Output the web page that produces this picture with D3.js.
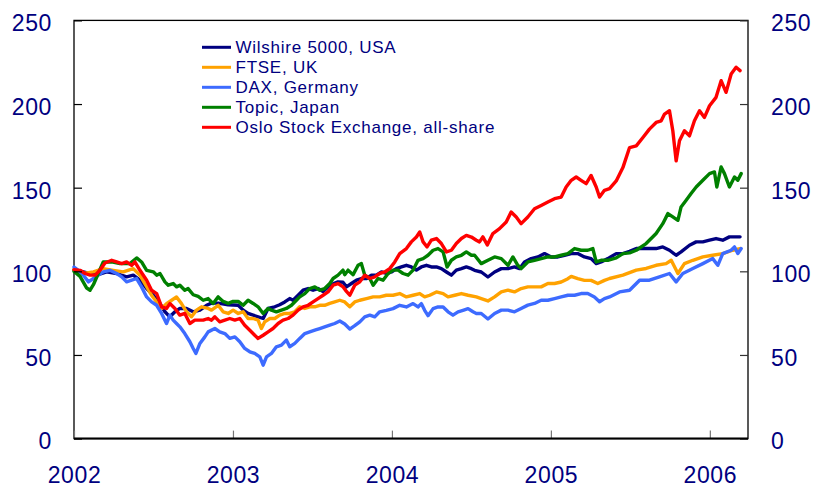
<!DOCTYPE html>
<html><head><meta charset="utf-8">
<script src="https://cdn.jsdelivr.net/npm/d3@7"></script>
<style>
html,body{margin:0;padding:0;background:#fff;}
svg{display:block;font-family:"Liberation Sans",Arial,sans-serif;}
</style></head>
<body><svg id="chart" width="813" height="492"></svg>
<script>
// ---- data: [decimal year, index value (Jan 2002 = 100)] ----
const yTicks = [0, 50, 100, 150, 200, 250];
const xTicks = [2002, 2003, 2004, 2005, 2006];
const seriesNames = ["Wilshire 5000, USA", "FTSE, UK", "DAX, Germany", "Topic, Japan", "Oslo Stock Exchange, all-share"];
const seriesColors = ["#000080", "#ffa200", "#3d6bff", "#008000", "#ff0000"];

const wilshire = [[2002.000,101],[2002.059,99.7],[2002.142,97.7],[2002.205,99.7],[2002.268,98.7],[2002.331,96.7],[2002.373,97.7],[2002.415,94.7],[2002.457,89.7],[2002.499,85.7],[2002.541,80.7],[2002.572,75.8],[2002.603,72.8],[2002.635,75.8],[2002.666,77.8],[2002.708,77.8],[2002.750,75.8],[2002.792,76.8],[2002.834,79.7],
[2002.865,81],[2002.907,81],[2002.970,80],[2003.033,79.7],[2003.064,76.8],[2003.095,74.8],[2003.127,73.8],[2003.158,72.8],[2003.190,71.8],[2003.221,77.8],[2003.263,78.8],[2003.294,80],[2003.326,81.7],[2003.357,83.7],[2003.378,82.7],[2003.410,85.7],[2003.441,88.7],[2003.473,89.7],[2003.504,88.7],[2003.535,89.7],[2003.567,88],[2003.598,90.7],[2003.630,92.5],[2003.661,93.7],
[2003.692,93.5],[2003.714,90.7],[2003.745,92.7],[2003.777,94.7],[2003.808,95.7],[2003.840,95.7],[2003.871,97.7],[2003.902,97.7],[2003.934,99.6],[2003.965,98.7],[2003.997,99.6],[2004.028,101.6],[2004.060,102.6],[2004.091,103.6],[2004.122,102.6],[2004.154,100.7],[2004.185,102.6],[2004.217,103.6],[2004.248,102.6],[2004.280,102.6],[2004.311,101.6],[2004.343,99.6],[2004.374,97.7],[2004.405,100.7],[2004.437,101.6],[2004.468,102.6],[2004.500,101.6],
[2004.520,100.6],[2004.562,99.6],[2004.604,96.6],[2004.646,99.6],[2004.688,101.6],[2004.730,101.6],[2004.771,102.6],[2004.803,101.6],[2004.834,105.6],[2004.876,107.6],[2004.918,108.6],[2004.960,110.6],[2005.002,108.6],[2005.044,108.6],[2005.086,109.6],[2005.128,110.6],[2005.169,110.6],[2005.211,108.6],[2005.253,107.6],[2005.285,104.6],[2005.316,105.6],[2005.358,107.6],
[2005.411,110.6],[2005.453,110.6],[2005.495,112],[2005.537,113.6],[2005.599,113.6],[2005.662,113.6],[2005.704,114.6],[2005.746,112.6],[2005.788,109.6],[2005.819,111.6],[2005.872,115.6],[2005.914,117.6],[2005.956,117.6],[2005.998,118.6],[2006.039,119.6],[2006.081,118.6],[2006.123,120.6],[2006.165,120.6],[2006.190,120.6]];

const ftse = [[2002.000,101],[2002.059,98.7],[2002.122,99.7],[2002.184,101.6],[2002.247,100.6],[2002.310,99.7],[2002.373,101.6],[2002.415,97.7],[2002.446,92.7],[2002.488,85.7],[2002.520,81.7],[2002.551,77.8],[2002.582,80.7],[2002.614,82.7],[2002.645,84.7],[2002.676,80.7],[2002.708,75.8],[2002.739,72.8],[2002.771,76.8],[2002.802,78.8],[2002.844,77.8],
[2002.865,76.8],[2002.907,79.7],[2002.938,75.8],[2002.970,74.8],[2003.001,76.8],[2003.033,74.8],[2003.064,75.8],[2003.095,71.8],[2003.127,71.8],[2003.158,70.8],[2003.179,65.8],[2003.200,69.8],[2003.232,71.8],[2003.263,71.8],[2003.294,73.8],[2003.326,74.8],[2003.357,74.8],[2003.389,75.8],[2003.420,78.8],[2003.452,77.8],[2003.483,78.8],[2003.515,78.8],[2003.546,79.7],[2003.577,79.7],[2003.609,80.8],[2003.640,81.7],[2003.672,82.7],
[2003.703,81.7],[2003.735,78.8],[2003.766,81.7],[2003.798,82.7],[2003.840,83.7],[2003.882,84.7],[2003.923,84.7],[2003.965,85.7],[2004.007,85.7],[2004.049,86.7],[2004.091,84.7],[2004.133,85.7],[2004.175,86.7],[2004.206,84.7],[2004.238,85.7],[2004.280,87.7],[2004.322,86.7],[2004.353,84.7],[2004.395,85.7],[2004.437,86.7],[2004.479,85.7],[2004.531,84.7],
[2004.562,83.7],[2004.604,82.3],[2004.646,84.7],[2004.688,87.7],[2004.730,88.7],[2004.771,87.7],[2004.813,89.7],[2004.855,90.7],[2004.897,90.7],[2004.939,90.7],[2004.981,92.7],[2005.023,92.7],[2005.065,93.6],[2005.107,95.6],[2005.128,97],[2005.169,95.6],[2005.211,94.6],[2005.253,94.6],[2005.295,92.7],[2005.337,94.6],
[2005.369,95.7],[2005.453,97.7],[2005.537,100.7],[2005.599,101.7],[2005.662,103.6],[2005.725,104.6],[2005.757,106.6],[2005.799,98.7],[2005.840,104.6],[2005.893,106.6],[2005.956,108.6],[2006.018,109.6],[2006.081,110.6],[2006.144,112.6],[2006.190,113.6]];

const dax = [[2002.000,102.6],[2002.027,100.6],[2002.059,97.7],[2002.091,93.7],[2002.122,95.7],[2002.153,97.7],[2002.184,99.7],[2002.226,100.6],[2002.268,98.7],[2002.300,96.7],[2002.331,93.7],[2002.363,94.7],[2002.394,95.7],[2002.425,90.7],[2002.457,84.7],[2002.488,81.7],[2002.520,79.7],[2002.551,74.8],[2002.582,68.8],[2002.603,73.8],[2002.624,70.8],[2002.645,68.8],[2002.666,66.8],[2002.697,62.8],[2002.729,57.9],[2002.750,53.9],[2002.767,50.9],[2002.792,56.9],[2002.823,60.8],[2002.844,63.8],
[2002.886,65.8],[2002.917,63.8],[2002.949,62.8],[2002.980,59.9],[2003.012,60.8],[2003.043,57.9],[2003.074,53.9],[2003.106,51.9],[2003.137,50.9],[2003.169,48.9],[2003.190,43.9],[2003.211,48.9],[2003.242,50.9],[2003.273,54.9],[2003.305,55.9],[2003.336,58.9],[2003.357,54.9],[2003.389,56.9],[2003.420,59.9],[2003.452,62.8],[2003.483,63.8],[2003.515,64.8],[2003.546,65.8],[2003.577,66.8],[2003.609,67.8],[2003.640,68.8],[2003.672,70.3],
[2003.703,68.5],[2003.735,65.5],[2003.766,67.5],[2003.798,69.8],[2003.829,72.8],[2003.861,73.8],[2003.892,72.8],[2003.923,75.8],[2003.965,76.7],[2004.007,77.7],[2004.049,79.7],[2004.091,78.7],[2004.133,80.7],[2004.164,78.7],[2004.185,80.7],[2004.206,76.7],[2004.227,73.5],[2004.259,77.7],[2004.290,78.7],[2004.322,78.7],[2004.353,75.8],[2004.384,73.8],[2004.416,75.8],[2004.447,76.7],[2004.479,77.7],[2004.510,75.8],[2004.531,74.8],
[2004.562,74.8],[2004.604,71.5],[2004.646,74.8],[2004.688,76.8],[2004.730,76.8],[2004.771,75.8],[2004.813,77.8],[2004.855,79.8],[2004.897,80.8],[2004.939,82.7],[2004.981,82.7],[2005.023,83.7],[2005.065,84.7],[2005.107,85.7],[2005.149,85.7],[2005.190,86.7],[2005.232,86.7],[2005.274,84.7],[2005.306,81.8],[2005.337,83.7],
[2005.369,84.7],[2005.432,87.7],[2005.495,88.7],[2005.558,94.7],[2005.620,94.7],[2005.683,96.7],[2005.746,98.7],[2005.788,93.7],[2005.830,98.7],[2005.893,101.7],[2005.956,104.6],[2006.018,107.6],[2006.050,103.6],[2006.081,110.6],[2006.134,112.6],[2006.155,114.6],[2006.176,110.6],[2006.197,113.6]];

const topix = [[2002.000,100],[2002.038,97],[2002.080,90],[2002.101,88.7],[2002.122,92],[2002.184,105.6],[2002.237,105.6],[2002.289,104.6],[2002.352,104.6],[2002.394,108],[2002.425,105.6],[2002.457,100.6],[2002.499,99.7],[2002.520,97.7],[2002.541,98.7],[2002.572,93.7],[2002.593,91.7],[2002.624,92.7],[2002.645,90.7],[2002.666,91.7],[2002.697,88.7],[2002.718,89.7],[2002.750,86],[2002.781,85],[2002.813,82.7],[2002.844,83.7],
[2002.875,80.8],[2002.907,84.7],[2002.938,82],[2002.970,80.8],[2003.001,82],[2003.033,82],[2003.064,79.7],[2003.095,82.7],[2003.127,80.8],[2003.158,78.8],[2003.190,74.8],[2003.221,77.8],[2003.242,76.8],[2003.273,75.8],[2003.305,76.8],[2003.336,77.8],[2003.368,79.7],[2003.399,82.7],[2003.420,84.7],[2003.452,86.7],[2003.483,89.7],[2003.515,90.7],[2003.546,88.7],[2003.577,89.7],[2003.609,92.7],[2003.630,95.7],[2003.661,97.7],[2003.692,100.7],
[2003.703,98],[2003.724,100.7],[2003.756,98],[2003.787,103.6],[2003.808,104.6],[2003.829,97.7],[2003.861,95.7],[2003.882,91.7],[2003.913,95.7],[2003.944,94.7],[2003.976,98.7],[2004.007,100.7],[2004.039,100.7],[2004.070,98.7],[2004.102,97.7],[2004.133,100.7],[2004.164,106.6],[2004.196,107.6],[2004.227,109.6],[2004.259,112.6],[2004.290,113.6],[2004.322,111.6],[2004.347,102.6],[2004.374,106.6],[2004.405,108.6],[2004.437,109.6],[2004.468,111.6],[2004.500,109.6],
[2004.520,109.6],[2004.562,104.6],[2004.604,106.6],[2004.646,108.6],[2004.688,107.6],[2004.730,103.6],[2004.761,108.6],[2004.792,103.6],[2004.813,101.6],[2004.855,105.6],[2004.897,106.6],[2004.939,107.6],[2004.981,108.6],[2005.023,108.6],[2005.065,109.6],[2005.107,110.6],[2005.149,113.6],[2005.190,112.6],[2005.232,112.6],[2005.264,113.6],[2005.285,105.6],[2005.316,106.6],[2005.358,106.6],
[2005.411,108],[2005.453,110.6],[2005.495,111],[2005.537,112.6],[2005.599,116.6],[2005.662,122.6],[2005.704,128.5],[2005.736,134.5],[2005.767,132.5],[2005.799,130.5],[2005.819,138.5],[2005.851,142.5],[2005.882,146.5],[2005.914,150.4],[2005.956,154.4],[2005.998,158.4],[2006.029,159.4],[2006.044,150.4],[2006.071,162.4],[2006.092,158.4],[2006.123,150.4],[2006.155,156.4],[2006.176,154.4],[2006.197,158.4]];

const oslo = [[2002.000,101],[2002.038,100.6],[2002.070,98.7],[2002.101,97.7],[2002.133,97.7],[2002.163,100.6],[2002.195,105],[2002.237,106.6],[2002.268,105.6],[2002.300,104.6],[2002.331,105.6],[2002.363,103.6],[2002.383,105.7],[2002.415,100.6],[2002.457,94.7],[2002.488,88.7],[2002.520,86.7],[2002.551,78.8],[2002.582,77.8],[2002.603,80.7],[2002.635,77.8],[2002.666,73.8],[2002.697,74.8],[2002.729,68.8],[2002.760,70.8],[2002.792,70.8],[2002.813,70.8],[2002.844,71.8],
[2002.865,70.8],[2002.886,72.8],[2002.917,69.8],[2002.949,70.8],[2002.980,71.8],[2003.012,70.8],[2003.043,71.8],[2003.074,67.8],[2003.106,64.8],[2003.137,61.8],[2003.158,59.9],[2003.190,61.8],[2003.221,63.8],[2003.252,65.8],[2003.284,68.8],[2003.315,70.8],[2003.347,71.8],[2003.378,73.8],[2003.410,76.8],[2003.441,78.8],[2003.473,79.7],[2003.504,81.7],[2003.535,83.7],[2003.567,85.7],[2003.598,87.7],[2003.630,91.7],[2003.661,92.7],
[2003.693,90.7],[2003.714,88],[2003.735,85.7],[2003.766,91.7],[2003.798,93.7],[2003.829,97.7],[2003.861,95.7],[2003.892,96.7],[2003.923,98.7],[2003.955,99.6],[2003.986,101.6],[2004.018,105.6],[2004.049,110.6],[2004.091,113.6],[2004.122,117.6],[2004.154,120.5],[2004.175,123.5],[2004.196,117.6],[2004.221,114.6],[2004.248,118.6],[2004.280,119.6],[2004.311,116.6],[2004.343,111.6],[2004.374,112.6],[2004.405,116.6],[2004.437,119.6],[2004.468,121.5],[2004.500,120.5],
[2004.531,118.6],[2004.551,117.6],[2004.572,120.6],[2004.600,115.8],[2004.635,122.6],[2004.677,125.5],[2004.719,129.5],[2004.750,135.5],[2004.782,132.5],[2004.813,128.5],[2004.855,132.5],[2004.897,137.4],[2004.939,139.4],[2004.981,141.4],[2005.023,143.4],[2005.065,144.4],[2005.096,150.4],[2005.128,154.4],[2005.159,156.4],[2005.190,154.4],[2005.222,152.4],[2005.253,157.3],[2005.285,150.4],[2005.306,144.4],[2005.337,148.4],
[2005.369,149.4],[2005.411,154],[2005.453,162],[2005.495,174],[2005.537,175],[2005.579,180],[2005.620,185],[2005.662,189],[2005.694,190],[2005.715,194],[2005.746,196],[2005.767,184],[2005.788,166],[2005.809,178],[2005.840,184],[2005.872,181],[2005.903,190],[2005.935,196],[2005.966,192],[2005.998,199],[2006.039,204],[2006.071,214],[2006.102,207],[2006.134,218],[2006.165,222],[2006.190,220]];

const seriesData = [wilshire, ftse, dax, topix, oslo];

// ---- drawing ----
const svg = d3.select("#chart");
const L = 74, R = 748, T = 20.4, B = 438.6;
const x = d3.scaleLinear().domain([2002, 2006.24]).range([L, R]);
const y = d3.scaleLinear().domain([0, 250]).range([B, T]);
const textColor = "#000080";

// frame
svg.append("rect").attr("x", L).attr("y", T).attr("width", R - L).attr("height", B - T)
  .attr("fill", "none").attr("stroke", "#000").attr("stroke-width", 1.3);

// lines
const line = d3.line().x(d => x(d[0])).y(d => y(d[1])).curve(d3.curveLinear);
svg.append("g").selectAll("path").data(seriesData).join("path")
  .attr("d", line).attr("fill", "none")
  .attr("stroke", (d, i) => seriesColors[i])
  .attr("stroke-width", 3.4).attr("stroke-linejoin", "round").attr("stroke-linecap", "round");

function styleAxis(g, tickColor) {
  g.select(".domain").remove();
  g.selectAll(".tick line").attr("stroke", tickColor).attr("stroke-width", 1.2);
  g.selectAll(".tick text").attr("fill", textColor).style("font-size", "23px")
    .style("letter-spacing", "0.6px").style("font-family", "'Liberation Sans', Arial, sans-serif");
}

const gl = svg.append("g").attr("transform", `translate(${L},0)`)
  .call(d3.axisLeft(y).tickValues(yTicks).tickSize(-8).tickSizeOuter(0).tickPadding(22));
styleAxis(gl, "#000");
gl.selectAll(".tick text").attr("dy", "0.45em");

const gr = svg.append("g").attr("transform", `translate(${R},0)`)
  .call(d3.axisRight(y).tickValues(yTicks).tickSize(-8).tickSizeOuter(0).tickPadding(23));
styleAxis(gr, "#333");
gr.selectAll(".tick text").attr("dy", "0.45em");

const gb = svg.append("g").attr("transform", `translate(0,${B})`)
  .call(d3.axisBottom(x).tickValues(xTicks).tickFormat(d3.format("d")).tickSize(-8).tickSizeOuter(0).tickPadding(28));
styleAxis(gb, "#777");

// bottom axis line (thicker)
svg.append("line").attr("x1", L).attr("x2", R).attr("y1", B).attr("y2", B)
  .attr("stroke", "#000").attr("stroke-width", 2);

// legend
const lg = svg.append("g");
const legY0 = 47.3, legStep = 20;
seriesNames.forEach((name, i) => {
  const yy = legY0 + i * legStep;
  lg.append("line").attr("x1", 202).attr("x2", 231).attr("y1", yy).attr("y2", yy)
    .attr("stroke", seriesColors[i]).attr("stroke-width", 3);
  lg.append("text").attr("x", 235.5).attr("y", yy + 5.6).text(name)
    .attr("fill", textColor).style("font-size", "17px").style("letter-spacing", "0.75px");
});
</script>
</body></html>
